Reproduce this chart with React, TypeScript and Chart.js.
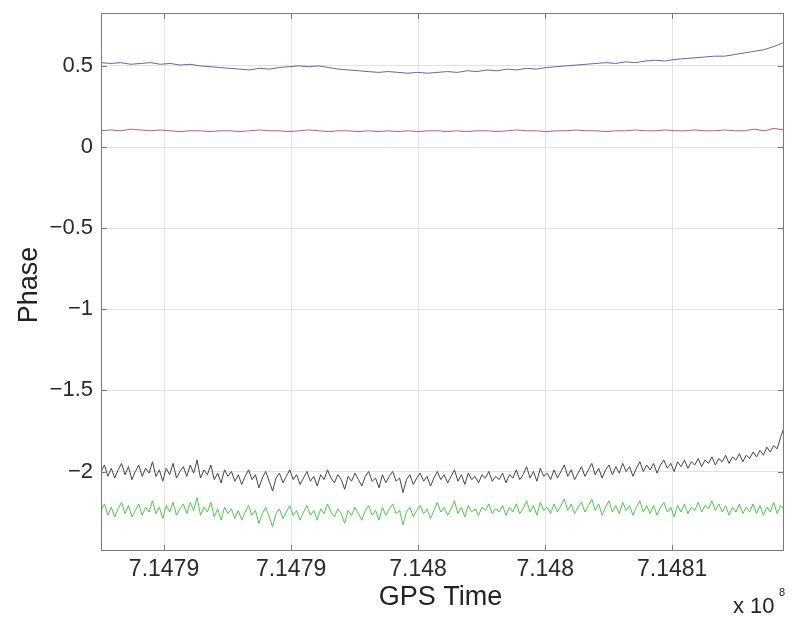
import React, { useEffect, useRef } from "react";
import { Chart, registerables } from "chart.js";

Chart.register(...registerables);

// ---- Data ----
const T_START = 714782520; // GPS seconds at left edge of the data
const T_END = 714809400; // GPS seconds at right edge of the data

const X_MIN = 714782520;
const X_MAX = 714809400;
const Y_MIN = -2.49;
const Y_MAX = 0.826;

const X_TICK_VALUES = [714785000, 714790000, 714795000, 714800000, 714805000];
const X_TICK_LABELS = ["7.1479", "7.1479", "7.148", "7.148", "7.1481"];
const Y_TICK_VALUES = [-2, -1.5, -1, -0.5, 0, 0.5];
const Y_TICK_LABELS = ["\u22122", "\u22121.5", "\u22121", "\u22120.5", "0", "0.5"];

const X_LABEL = "GPS Time";
const Y_LABEL = "Phase";
const X_EXPONENT_BASE = "x 10";
const X_EXPONENT_POWER = "8";

const blueSeries = [
  0.52, 0.515, 0.52, 0.51, 0.515, 0.52, 0.51, 0.515, 0.505, 0.51,
  0.50, 0.495, 0.49, 0.485, 0.48, 0.475, 0.485, 0.48, 0.49, 0.495,
  0.50, 0.495, 0.50, 0.49, 0.48, 0.475, 0.47, 0.465, 0.46, 0.465,
  0.46, 0.455, 0.46, 0.455, 0.46, 0.465, 0.46, 0.47, 0.465, 0.475,
  0.47, 0.48, 0.475, 0.485, 0.48, 0.49, 0.495, 0.50, 0.505, 0.51,
  0.515, 0.52, 0.515, 0.525, 0.52, 0.53, 0.535, 0.53, 0.54, 0.545,
  0.55, 0.555, 0.56, 0.56, 0.57, 0.58, 0.59, 0.60, 0.62, 0.645,
];

const redSeries = [
  0.10, 0.105, 0.10, 0.11, 0.105, 0.10, 0.105, 0.10, 0.095, 0.10,
  0.10, 0.095, 0.10, 0.10, 0.095, 0.10, 0.105, 0.10, 0.10, 0.095,
  0.10, 0.105, 0.10, 0.095, 0.10, 0.10, 0.095, 0.10, 0.095, 0.10,
  0.095, 0.10, 0.095, 0.10, 0.10, 0.095, 0.10, 0.095, 0.10, 0.10,
  0.095, 0.10, 0.105, 0.10, 0.10, 0.095, 0.10, 0.10, 0.105, 0.10,
  0.10, 0.095, 0.10, 0.10, 0.105, 0.10, 0.10, 0.105, 0.10, 0.10,
  0.105, 0.10, 0.10, 0.105, 0.10, 0.10, 0.11, 0.10, 0.115, 0.105,
];

const blackSeries = [
  -2.00, -1.96, -2.03, -1.98, -2.04, -1.99, -1.95, -2.02, -1.97, -2.05, -2.00, -1.96, -2.03, -1.98, -2.01, -1.94, -2.03, -1.99, -2.06, -1.98,
  -2.02, -1.95, -2.04, -2.00, -1.97, -2.03, -1.96, -2.01, -1.93, -2.04, -1.99, -2.02, -1.96, -2.05, -2.01, -2.07, -1.99, -2.03, -2.00, -2.06,
  -2.02, -2.08, -2.03, -1.99, -2.05, -2.02, -2.10, -2.04, -2.00, -2.06, -2.12, -2.04, -2.01, -2.07, -2.03, -1.99, -2.05, -2.02, -2.08, -2.04,
  -2.00, -2.06, -2.03, -2.09, -2.02, -2.05, -1.99, -2.04, -2.07, -2.02, -2.05, -2.11, -2.03, -2.06, -2.01, -2.05, -2.09, -2.03, -2.00, -2.06,
  -2.04, -2.10, -2.02, -2.07, -2.03, -2.00, -2.06, -2.04, -2.13, -2.05, -2.02, -2.08, -2.04, -2.01, -2.06, -2.03, -2.09, -2.04, -2.00, -2.05,
  -2.02, -2.07, -2.03, -1.99, -2.06, -2.02, -2.08, -2.01, -2.05, -2.03, -2.07, -2.02, -2.04, -2.00, -2.06, -2.03, -2.05, -2.01, -2.07, -2.02,
  -2.04, -1.99, -2.05, -2.02, -1.97, -2.04, -2.00, -2.06, -1.98, -2.03, -2.01, -2.05, -1.99, -2.04, -2.00, -1.96, -2.03, -1.99, -2.05, -2.01,
  -1.97, -2.03, -1.99, -1.95, -2.02, -1.98, -2.04, -1.99, -1.96, -2.02, -1.97, -2.01, -1.95, -2.00, -1.97, -2.03, -1.98, -1.94, -2.00, -1.96,
  -1.99, -1.95, -2.01, -1.96, -1.93, -1.98, -1.95, -2.00, -1.94, -1.97, -1.93, -1.98, -1.94, -1.96, -1.92, -1.97, -1.93, -1.95, -1.91, -1.96,
  -1.92, -1.94, -1.90, -1.95, -1.91, -1.93, -1.89, -1.94, -1.90, -1.92, -1.88, -1.91, -1.87, -1.90, -1.85, -1.88, -1.84, -1.86, -1.79, -1.73,
];

const greenSeries = [
  -2.24, -2.20, -2.27, -2.22, -2.28, -2.23, -2.19, -2.26, -2.21, -2.28, -2.24, -2.20, -2.27, -2.22, -2.25, -2.18, -2.26, -2.22, -2.29, -2.21,
  -2.25, -2.19, -2.27, -2.23, -2.20, -2.26, -2.19, -2.24, -2.16, -2.27, -2.22, -2.25, -2.19, -2.28, -2.23, -2.30, -2.22, -2.26, -2.23, -2.29,
  -2.24, -2.30, -2.25, -2.21, -2.27, -2.24, -2.32, -2.26, -2.22, -2.28, -2.34, -2.26, -2.23, -2.29, -2.25, -2.21, -2.27, -2.24, -2.30, -2.25,
  -2.21, -2.27, -2.24, -2.30, -2.23, -2.26, -2.20, -2.25, -2.28, -2.23, -2.26, -2.32, -2.24, -2.27, -2.22, -2.26, -2.30, -2.24, -2.21, -2.27,
  -2.24, -2.30, -2.22, -2.27, -2.23, -2.20, -2.26, -2.24, -2.33, -2.25, -2.22, -2.28, -2.24, -2.21, -2.26, -2.23, -2.29, -2.24, -2.19, -2.25,
  -2.22, -2.27, -2.23, -2.18, -2.26, -2.22, -2.28, -2.21, -2.25, -2.23, -2.27, -2.22, -2.24, -2.20, -2.26, -2.23, -2.25, -2.21, -2.27, -2.22,
  -2.25, -2.20, -2.26, -2.23, -2.18, -2.25, -2.21, -2.27, -2.19, -2.24, -2.22, -2.26, -2.20, -2.25, -2.21, -2.17, -2.24, -2.20, -2.26, -2.22,
  -2.19, -2.25, -2.21, -2.17, -2.24, -2.20, -2.27, -2.22, -2.18, -2.25, -2.21, -2.26, -2.19, -2.24, -2.21, -2.27, -2.22, -2.18, -2.25, -2.21,
  -2.26, -2.21, -2.27, -2.22, -2.19, -2.25, -2.22, -2.28, -2.21, -2.25, -2.20, -2.26, -2.22, -2.24, -2.19, -2.25, -2.21, -2.23, -2.18, -2.24,
  -2.20, -2.25, -2.21, -2.27, -2.22, -2.25, -2.20, -2.26, -2.22, -2.25, -2.20, -2.26, -2.21, -2.27, -2.22, -2.25, -2.19, -2.26, -2.21, -2.23,
];

// Uniform sampling grid across the recorded time span
function toPoints(values: number[]) {
  const n = values.length;
  return values.map((y, i) => ({ x: T_START + ((T_END - T_START) * i) / (n - 1), y }));
}

const FONT = '"Liberation Sans", Arial, Helvetica, sans-serif';
const W = 794;
const H = 622;
const PLOT_TOP = 13;
const PLOT_BOTTOM = 551;
const PLOT_LEFT = 101;
const PLOT_RIGHT = 784;

const framePlugin = {
  id: "frame",
  afterDraw(chart: any) {
    const { ctx, chartArea } = chart;
    const { left, right, top, bottom } = chartArea;
    const xs = chart.scales.x;
    const ys = chart.scales.y;
    ctx.save();
    // box
    ctx.strokeStyle = "#7a7a7a";
    ctx.lineWidth = 1;
    ctx.strokeRect(left + 0.5, top + 0.5, right - left - 1, bottom - top - 1);
    // inward tick marks
    const tl = 6;
    ctx.beginPath();
    X_TICK_VALUES.forEach((v) => {
      const px = Math.round(xs.getPixelForValue(v)) + 0.5;
      ctx.moveTo(px, bottom);
      ctx.lineTo(px, bottom - tl);
      ctx.moveTo(px, top);
      ctx.lineTo(px, top + tl);
    });
    Y_TICK_VALUES.forEach((v) => {
      const py = Math.round(ys.getPixelForValue(v)) + 0.5;
      ctx.moveTo(left, py);
      ctx.lineTo(left + tl, py);
      ctx.moveTo(right, py);
      ctx.lineTo(right - tl, py);
    });
    ctx.stroke();

    // titles
    ctx.fillStyle = "#222";
    ctx.font = `27px ${FONT}`;
    ctx.textAlign = "center";
    ctx.textBaseline = "alphabetic";
    ctx.fillText(X_LABEL, (left + right) / 2 - 2, 605);

    ctx.save();
    ctx.translate(37, (top + bottom) / 2 + 3);
    ctx.rotate(-Math.PI / 2);
    ctx.textBaseline = "alphabetic";
    ctx.fillText(Y_LABEL, 0, 0);
    ctx.restore();

    // exponent
    ctx.font = `22px ${FONT}`;
    ctx.textAlign = "left";
    ctx.fillText(X_EXPONENT_BASE, 733, 613);
    ctx.font = `11px ${FONT}`;
    ctx.fillText(X_EXPONENT_POWER, 779, 596);
    ctx.restore();
  },
};

export default function App() {
  const ref = useRef<HTMLCanvasElement>(null);

  useEffect(() => {
    if (!ref.current) return;
    const chart = new Chart(ref.current, {
      type: "line",
      data: {
        datasets: [
          { data: toPoints(blueSeries), borderColor: "#6464b4", borderWidth: 1, pointRadius: 0, tension: 0 },
          { data: toPoints(redSeries), borderColor: "#c85a74", borderWidth: 1, pointRadius: 0, tension: 0 },
          { data: toPoints(blackSeries), borderColor: "#444444", borderWidth: 1, pointRadius: 0, tension: 0 },
          { data: toPoints(greenSeries), borderColor: "#4ac84a", borderWidth: 1, pointRadius: 0, tension: 0 },
        ],
      },
      options: {
        responsive: false,
        devicePixelRatio: 1,
        animation: false,
        layout: { padding: { top: PLOT_TOP, right: W - PLOT_RIGHT, left: 0, bottom: 0 } },
        plugins: { legend: { display: false }, tooltip: { enabled: false } },
        scales: {
          x: {
            type: "linear",
            min: X_MIN,
            max: X_MAX,
            border: { display: false },
            grid: { color: "#e2e2e2", lineWidth: 1, drawTicks: false },
            afterBuildTicks: (scale: any) => {
              scale.ticks = X_TICK_VALUES.map((v) => ({ value: v }));
            },
            afterFit: (scale: any) => {
              scale.height = H - PLOT_BOTTOM;
              scale.paddingLeft = 0;
              scale.paddingRight = 0;
            },
            ticks: {
              autoSkip: false,
              maxRotation: 0,
              padding: 5,
              color: "#2a2a2a",
              font: { family: FONT, size: 23 },
              callback: (_v: any, i: number) => X_TICK_LABELS[i],
            },
          },
          y: {
            type: "linear",
            min: Y_MIN,
            max: Y_MAX,
            border: { display: false },
            grid: { color: "#e2e2e2", lineWidth: 1, drawTicks: false },
            afterBuildTicks: (scale: any) => {
              scale.ticks = Y_TICK_VALUES.map((v) => ({ value: v }));
            },
            afterFit: (scale: any) => {
              scale.width = PLOT_LEFT;
              scale.paddingTop = 0;
              scale.paddingBottom = 0;
            },
            ticks: {
              autoSkip: false,
              padding: 8,
              color: "#2a2a2a",
              font: { family: FONT, size: 22 },
              callback: (_v: any, i: number) => Y_TICK_LABELS[i],
            },
          },
        },
      },
      plugins: [framePlugin],
    });
    return () => chart.destroy();
  }, []);

  return (
    <div style={{ position: "fixed", left: 0, top: 0, width: W, height: H, background: "#fff" }}>
      <canvas ref={ref} width={W} height={H} style={{ width: W, height: H, display: "block" }} />
    </div>
  );
}
